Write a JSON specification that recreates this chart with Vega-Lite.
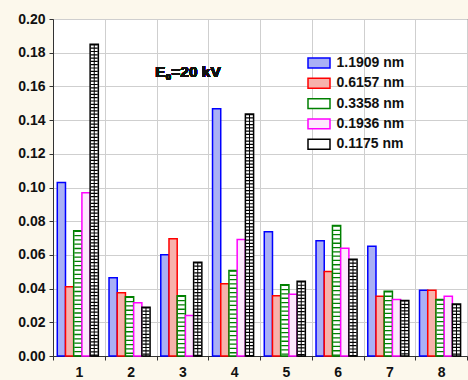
{
  "$schema": "https://vega.github.io/schema/vega-lite/v6.json",
  "width": 414,
  "height": 337,
  "autosize": {"type": "none"},
  "padding": {"left": 53, "top": 19, "right": 1, "bottom": 24},
  "background": "#fcf8ec",
  "config": {
    "font": "Liberation Sans",
    "view": {"fill": "white", "stroke": "#333333", "strokeWidth": 1},
    "axis": {
      "labelFont": "Liberation Sans",
      "labelFontWeight": "bold",
      "labelFontSize": 14,
      "labelColor": "#111111",
      "domainColor": "#333333",
      "tickColor": "#333333",
      "gridColor": "#cfcfcf",
      "gridOpacity": 1,
      "title": null
    },
    "legend": {
      "labelFont": "Liberation Sans",
      "labelFontWeight": "bold",
      "labelFontSize": 14,
      "labelColor": "#111111"
    }
  },
  "data": {
    "values": [
      {"c": "1", "s": "1.1909 nm", "v": 0.1029},
      {"c": "1", "s": "0.6157 nm", "v": 0.0411},
      {"c": "1", "s": "0.3358 nm", "v": 0.0744},
      {"c": "1", "s": "0.1936 nm", "v": 0.0969},
      {"c": "1", "s": "0.1175 nm", "v": 0.185},
      {"c": "2", "s": "1.1909 nm", "v": 0.0465},
      {"c": "2", "s": "0.6157 nm", "v": 0.0376},
      {"c": "2", "s": "0.3358 nm", "v": 0.0352},
      {"c": "2", "s": "0.1936 nm", "v": 0.0316},
      {"c": "2", "s": "0.1175 nm", "v": 0.0289},
      {"c": "3", "s": "1.1909 nm", "v": 0.0601},
      {"c": "3", "s": "0.6157 nm", "v": 0.0696},
      {"c": "3", "s": "0.3358 nm", "v": 0.0358},
      {"c": "3", "s": "0.1936 nm", "v": 0.0241},
      {"c": "3", "s": "0.1175 nm", "v": 0.0556},
      {"c": "4", "s": "1.1909 nm", "v": 0.1468},
      {"c": "4", "s": "0.6157 nm", "v": 0.0429},
      {"c": "4", "s": "0.3358 nm", "v": 0.0508},
      {"c": "4", "s": "0.1936 nm", "v": 0.0692},
      {"c": "4", "s": "0.1175 nm", "v": 0.1436},
      {"c": "5", "s": "1.1909 nm", "v": 0.0738},
      {"c": "5", "s": "0.6157 nm", "v": 0.0358},
      {"c": "5", "s": "0.3358 nm", "v": 0.0423},
      {"c": "5", "s": "0.1936 nm", "v": 0.0366},
      {"c": "5", "s": "0.1175 nm", "v": 0.0443},
      {"c": "6", "s": "1.1909 nm", "v": 0.0684},
      {"c": "6", "s": "0.6157 nm", "v": 0.0502},
      {"c": "6", "s": "0.3358 nm", "v": 0.0775},
      {"c": "6", "s": "0.1936 nm", "v": 0.0639},
      {"c": "6", "s": "0.1175 nm", "v": 0.0574},
      {"c": "7", "s": "1.1909 nm", "v": 0.0651},
      {"c": "7", "s": "0.6157 nm", "v": 0.0354},
      {"c": "7", "s": "0.3358 nm", "v": 0.0384},
      {"c": "7", "s": "0.1936 nm", "v": 0.0336},
      {"c": "7", "s": "0.1175 nm", "v": 0.033},
      {"c": "8", "s": "1.1909 nm", "v": 0.039},
      {"c": "8", "s": "0.6157 nm", "v": 0.039},
      {"c": "8", "s": "0.3358 nm", "v": 0.0336},
      {"c": "8", "s": "0.1936 nm", "v": 0.0354},
      {"c": "8", "s": "0.1175 nm", "v": 0.0309}
    ]
  },
  "encoding": {
    "x": {
      "field": "c",
      "type": "nominal",
      "scale": {"paddingInner": 0, "paddingOuter": 0},
      "axis": {"labelAngle": 0, "grid": true, "tickBand": "extent", "tickSize": 4, "labelPadding": 5}
    },
    "xOffset": {
      "field": "s",
      "type": "nominal",
      "scale": {
        "domain": ["1.1909 nm", "0.6157 nm", "0.3358 nm", "0.1936 nm", "0.1175 nm"],
        "paddingInner": 0,
        "paddingOuter": 0.65,
        "align": 0.4
      }
    },
    "y": {
      "field": "v",
      "type": "quantitative",
      "scale": {"domain": [0, 0.2], "nice": false},
      "axis": {"values": [0, 0.02, 0.04, 0.06, 0.08, 0.1, 0.12, 0.14, 0.16, 0.18, 0.2], "format": ".2f", "grid": true, "tickSize": 4, "labelPadding": 4}
    }
  },
  "layer": [
    {
      "mark": {"type": "bar", "strokeWidth": 1.5},
      "encoding": {
        "fill": {
          "field": "s",
          "type": "nominal",
          "scale": {
            "domain": ["1.1909 nm", "0.6157 nm", "0.3358 nm", "0.1936 nm", "0.1175 nm"],
            "range": ["#aab0f5", "#f7b2ac", "#ffffff", "#fde9fd", "#ffffff"]
          },
          "legend": {
            "orient": "none",
            "legendX": 259,
            "legendY": 37,
            "title": null,
            "symbolType": "M-2,-0.9H2V0.9H-2Z",
            "symbolSize": 121,
            "symbolStrokeWidth": 1.5,
            "rowPadding": 4.3,
            "labelOffset": 10.5
          }
        },
        "stroke": {
          "field": "s",
          "type": "nominal",
          "scale": {
            "domain": ["1.1909 nm", "0.6157 nm", "0.3358 nm", "0.1936 nm", "0.1175 nm"],
            "range": ["#0000ff", "#ff0000", "#008000", "#ff00ff", "#000000"]
          }
        }
      }
    },
    {
      "transform": [{"filter": "datum.s === '0.3358 nm'"}],
      "mark": {"type": "rule", "color": "#008000", "strokeWidth": 7, "strokeDash": [1.3, 3]},
      "encoding": {"y2": {"datum": 0}}
    },
    {
      "transform": [{"filter": "datum.s === '0.1175 nm'"}],
      "mark": {"type": "rule", "color": "#000000", "strokeWidth": 7, "strokeDash": [1.2, 2.1]},
      "encoding": {"y2": {"datum": 0}}
    },
    {
      "transform": [{"filter": "datum.s === '0.1175 nm'"}],
      "mark": {"type": "rule", "color": "#000000", "strokeWidth": 1},
      "encoding": {"y2": {"datum": 0}}
    },
    {
      "mark": {"type": "text", "text": "E", "fontSize": 15, "fontWeight": "bold", "align": "left", "baseline": "alphabetic", "dx": 50.5, "color": "#111111"},
      "encoding": {"x": {"datum": "2"}, "xOffset": {"value": 0}, "y": {"datum": 0.1658}}
    },
    {
      "mark": {"type": "text", "text": "0", "fontSize": 9.5, "fontWeight": "bold", "align": "left", "baseline": "alphabetic", "dx": 61, "dy": 3.5, "color": "#111111"},
      "encoding": {"x": {"datum": "2"}, "xOffset": {"value": 0}, "y": {"datum": 0.1658}}
    },
    {
      "mark": {"type": "text", "text": "=20 kV", "fontSize": 15.5, "fontWeight": "bold", "align": "left", "baseline": "alphabetic", "dx": 66.5, "color": "#111111"},
      "encoding": {"x": {"datum": "2"}, "xOffset": {"value": 0}, "y": {"datum": 0.1658}}
    }
  ]
}
